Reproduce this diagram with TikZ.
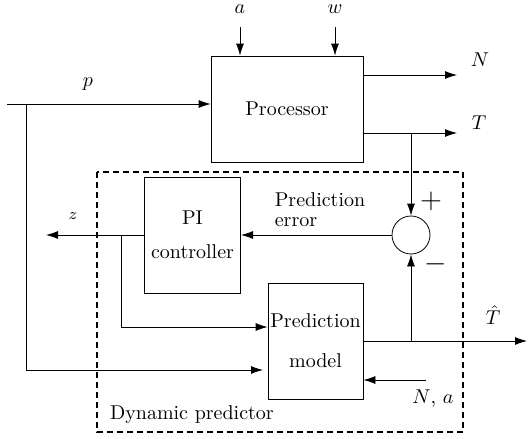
\documentclass[tikz,border=0pt]{standalone}
\usepackage{amssymb}
\usepackage{amsmath}
\usepackage{tikz}
\usetikzlibrary{shapes, positioning, arrows.meta}

\begin{document}
\begin{tikzpicture}[x=0.5pt, y=-0.5pt]
                \tikzset{
                  blok/.style={
                    rectangle,
                    draw,
                    text centered,
                    align=center,
                    minimum width=47.5pt, % box size
                    minimum height=58pt,
                  },
                  pijl/.style={-{Latex[length=6pt, width=4pt]}},
                  som/.style={circle, draw, minimum size=19pt, inner sep=0pt},
                  lbl/.style={inner sep=1pt},
                }
                \useasboundingbox (0,0) rectangle (531,439);

                % blocks
                \node[blok, minimum width=76pt, minimum height=53pt] (proc) at (287,109) {Processor};
                \node[blok] (pi) at (192.5,235) {PI\\[5pt]controller};
                \node[blok, inner xsep=0pt] (model) at (315.5,341) {Prediction\\[8pt]model};
                \node[som] (sum) at (411,235) {};
                \draw[densely dashed, thick] (97,172) rectangle (463,432);
                \node[anchor=west] (dyn) at (103,415) {Dynamic predictor};

                % free ends
                \coordinate (ain) at (240,27);
                \coordinate (win) at (335,27);
                \coordinate (nout) at (457,75);
                \coordinate (tout) at (457,133);
                \coordinate (pin) at (7,104);
                \coordinate (pb) at (26,104);
                \coordinate (pm) at (263,370);
                \coordinate (zout) at (46,235);
                \coordinate (zb) at (121,235);
                \coordinate (mz) at (268,327);
                \coordinate (thout) at (527,341);
                \coordinate (nain) at (426,380);

                % connectors
                \draw[pijl] (ain) -- (ain |- proc.north);
                \draw[pijl] (win) -- (win |- proc.north);
                \draw[pijl] (nout -| proc.east) -- (nout);
                \draw[pijl] (tout -| proc.east) -- (tout);
                \draw[pijl] (pin) -- (pin -| proc.west);
                \draw[pijl] (pb) |- (pm);
                \draw[pijl] (sum.north |- tout) -- (sum.north);
                \draw[pijl] (sum.west) -- (pi.east);
                \draw[pijl] (pi.west) -- (zout);
                \draw[pijl] (zb) |- (mz -| model.west);
                \draw[pijl] (model.east) -- (thout);
                \draw[pijl] (sum.south |- thout) -- (sum.south);
                \draw[pijl] (nain) -- (nain -| model.east);

                % labels
                \node[lbl] (la) at (240,9) {$a$};
                \node[lbl] (lw) at (335,9) {$w$};
                \node[lbl] (lN) at (480,60) {$N$};
                \node[lbl] (lT) at (479,123) {$T$};
                \node[lbl] (lp) at (88,84) {$p$};
                \node[lbl] (lz) at (73,216) {\footnotesize $z$};
                \node[lbl, align=left] (lerr) at (320,210) {Prediction\\[-2pt]error};
                \node[lbl] (lplus) at (431,201) {\Large $+$};
                \node[lbl] (lmin) at (436,264) {\Large $-$};
                \node[lbl] (lTh) at (493,315) {$\hat{T}$};
                \node[lbl] (lNa) at (433,399) {$N$, $a$};
\end{tikzpicture}
\end{document}
